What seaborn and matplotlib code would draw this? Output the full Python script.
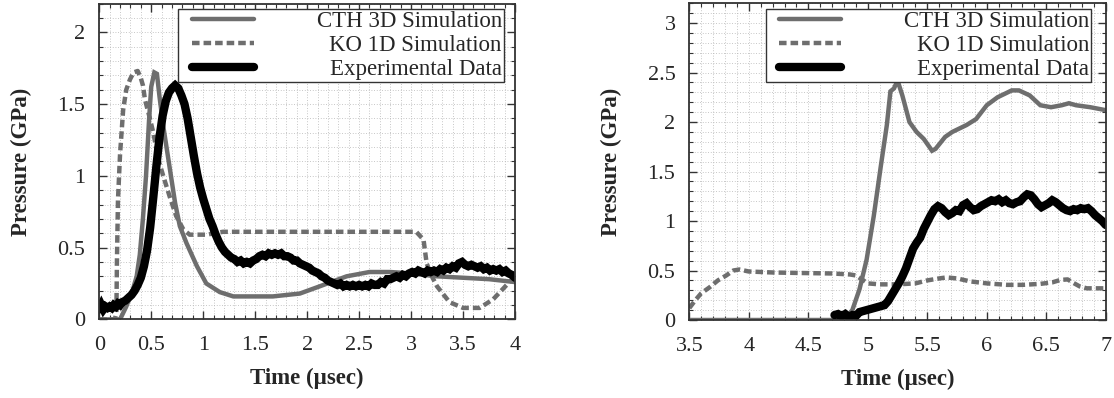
import matplotlib
matplotlib.use("Agg")
import matplotlib.pyplot as plt
from matplotlib.legend_handler import HandlerLine2D
from matplotlib.lines import Line2D
from matplotlib.ticker import MultipleLocator
import seaborn as sns

# ---------------------------------------------------------------- data
series_names = ["CTH 3D Simulation", "KO 1D Simulation", "Experimental Data"]

# Gauge 1 (0 - 4 usec)
g1_cth_t = [0.00, 0.20, 0.26, 0.32, 0.36, 0.39, 0.42, 0.45, 0.48, 0.50, 0.53,
            0.555, 0.58, 0.615, 0.68, 0.73, 0.775, 0.84, 0.94, 1.03, 1.16, 1.29,
            1.50, 1.67, 1.93, 2.12, 2.38, 2.60, 2.80, 3.00, 3.25, 3.50, 3.75, 4.00]
g1_cth_p = [0.00, 0.00, 0.09, 0.20, 0.30, 0.45, 0.70, 1.00, 1.40, 1.62, 1.72,
            1.71, 1.55, 1.35, 1.045, 0.81, 0.65, 0.53, 0.37, 0.25, 0.19, 0.16,
            0.16, 0.16, 0.18, 0.23, 0.30, 0.33, 0.33, 0.32, 0.30, 0.29, 0.28, 0.26]

g1_ko_t = [0.00, 0.15, 0.165, 0.17, 0.18, 0.20, 0.23, 0.26, 0.295, 0.33, 0.37,
           0.40, 0.42, 0.44, 0.48, 0.52, 0.57, 0.615, 0.68, 0.74, 0.81, 0.87,
           1.03, 1.19, 3.05, 3.12, 3.15, 3.20, 3.25, 3.37, 3.50, 3.66, 3.79,
           3.92, 4.00]
g1_ko_p = [0.00, 0.00, 0.05, 0.40, 0.83, 1.15, 1.46, 1.60, 1.67, 1.72, 1.73,
           1.68, 1.63, 1.53, 1.42, 1.30, 1.11, 1.00, 0.85, 0.72, 0.625, 0.59,
           0.59, 0.61, 0.61, 0.555, 0.39, 0.30, 0.23, 0.12, 0.08, 0.08, 0.14,
           0.24, 0.30]

g1_exp_t = [0.00, 0.02, 0.04, 0.06, 0.08, 0.10, 0.12, 0.14, 0.16, 0.18, 0.20,
            0.22, 0.25, 0.28, 0.31, 0.34, 0.37, 0.40, 0.43, 0.46, 0.49, 0.52,
            0.55, 0.58, 0.61, 0.64, 0.67, 0.70, 0.73, 0.76, 0.79, 0.82, 0.85,
            0.88, 0.91, 0.94, 0.97, 1.00, 1.03, 1.06, 1.09, 1.12, 1.15, 1.18,
            1.21, 1.24, 1.27, 1.30, 1.33, 1.36, 1.39, 1.42, 1.45, 1.48, 1.51,
            1.54, 1.57, 1.60, 1.63, 1.66, 1.69, 1.72, 1.75, 1.78, 1.81, 1.84,
            1.87, 1.90, 1.93, 1.96, 1.99, 2.02, 2.05, 2.08, 2.11, 2.14, 2.17,
            2.20, 2.23, 2.26, 2.29, 2.32, 2.35, 2.38, 2.41, 2.44, 2.47, 2.50,
            2.53, 2.56, 2.59, 2.62, 2.65, 2.68, 2.71, 2.74, 2.77, 2.80, 2.83,
            2.86, 2.89, 2.92, 2.95, 2.98, 3.01, 3.04, 3.07, 3.10, 3.13, 3.16,
            3.19, 3.22, 3.25, 3.28, 3.31, 3.34, 3.37, 3.40, 3.43, 3.46, 3.49,
            3.52, 3.55, 3.58, 3.61, 3.64, 3.67, 3.70, 3.73, 3.76, 3.79, 3.82,
            3.85, 3.88, 3.91, 3.94, 3.97, 4.00]
g1_exp_p = [0.07, 0.10, 0.07, 0.09, 0.08, 0.09, 0.08, 0.10, 0.09, 0.11, 0.10,
            0.12, 0.13, 0.15, 0.17, 0.20, 0.24, 0.29, 0.37, 0.48, 0.64, 0.85,
            1.07, 1.27, 1.42, 1.52, 1.58, 1.61, 1.63, 1.61, 1.56, 1.50, 1.40,
            1.27, 1.14, 1.02, 0.92, 0.84, 0.77, 0.70, 0.65, 0.59, 0.54, 0.50,
            0.47, 0.45, 0.43, 0.42, 0.40, 0.41, 0.39, 0.40, 0.39, 0.41, 0.42,
            0.44, 0.45, 0.44, 0.46, 0.45, 0.46, 0.45, 0.46, 0.44, 0.44, 0.43,
            0.41, 0.41, 0.39, 0.38, 0.37, 0.36, 0.34, 0.33, 0.32, 0.30, 0.29,
            0.27, 0.26, 0.25, 0.24, 0.25, 0.23, 0.24, 0.23, 0.24, 0.23, 0.24,
            0.23, 0.24, 0.23, 0.25, 0.24, 0.24, 0.26, 0.25, 0.28, 0.28, 0.29,
            0.30, 0.29, 0.31, 0.30, 0.32, 0.33, 0.32, 0.34, 0.33, 0.32, 0.34,
            0.33, 0.34, 0.33, 0.35, 0.34, 0.36, 0.35, 0.37, 0.36, 0.39, 0.40,
            0.38, 0.37, 0.38, 0.37, 0.36, 0.37, 0.35, 0.36, 0.34, 0.35, 0.34,
            0.35, 0.33, 0.34, 0.32, 0.31, 0.29]

# Gauge 2 (3.5 - 7 usec)
g2_cth_t = [3.50, 4.75, 4.82, 4.87, 4.93, 4.99, 5.05, 5.11, 5.16, 5.19, 5.22,
            5.25, 5.29, 5.35, 5.41, 5.47, 5.54, 5.57, 5.65, 5.71, 5.83, 5.91,
            6.00, 6.09, 6.21, 6.27, 6.36, 6.45, 6.54, 6.63, 6.69, 6.75, 6.87, 7.00]
g2_cth_p = [0.00, 0.00, 0.03, 0.10, 0.31, 0.61, 1.05, 1.56, 1.97, 2.31, 2.34,
            2.42, 2.27, 2.00, 1.90, 1.83, 1.71, 1.73, 1.85, 1.90, 1.97, 2.03,
            2.17, 2.25, 2.32, 2.32, 2.27, 2.17, 2.15, 2.17, 2.19, 2.17, 2.15, 2.12]

g2_ko_t = [3.50, 3.55, 3.60, 3.67, 3.74, 3.81, 3.87, 3.92, 4.00, 4.20, 4.43,
           4.70, 4.85, 4.90, 4.95, 5.00, 5.10, 5.25, 5.40, 5.50, 5.60, 5.66,
           5.75, 5.86, 6.00, 6.17, 6.30, 6.45, 6.55, 6.62, 6.68, 6.72, 6.78,
           6.84, 6.92, 7.00]
g2_ko_p = [0.12, 0.20, 0.27, 0.33, 0.40, 0.45, 0.50, 0.51, 0.49, 0.48, 0.475,
           0.47, 0.46, 0.45, 0.41, 0.37, 0.36, 0.36, 0.37, 0.40, 0.42, 0.43,
           0.42, 0.39, 0.37, 0.355, 0.355, 0.365, 0.38, 0.405, 0.41, 0.38, 0.34,
           0.32, 0.32, 0.32]

g2_exp_t = [4.72, 4.75, 4.78, 4.81, 4.84, 4.87, 4.90, 4.93, 4.96, 4.99, 5.02,
            5.05, 5.08, 5.11, 5.14, 5.17, 5.20, 5.23, 5.26, 5.29, 5.32, 5.35,
            5.38, 5.41, 5.44, 5.47, 5.50, 5.53, 5.56, 5.59, 5.62, 5.65, 5.68,
            5.71, 5.74, 5.77, 5.80, 5.83, 5.86, 5.89, 5.92, 5.95, 5.98, 6.01,
            6.04, 6.07, 6.10, 6.13, 6.16, 6.19, 6.22, 6.25, 6.28, 6.31, 6.34,
            6.37, 6.40, 6.43, 6.46, 6.49, 6.52, 6.55, 6.58, 6.61, 6.64, 6.67,
            6.70, 6.73, 6.76, 6.79, 6.82, 6.85, 6.88, 6.91, 6.94, 6.97, 7.00]
g2_exp_p = [0.05, 0.06, 0.04, 0.06, 0.03, 0.05, 0.04, 0.08, 0.09, 0.10, 0.11,
            0.12, 0.13, 0.14, 0.15, 0.19, 0.25, 0.31, 0.37, 0.44, 0.52, 0.62,
            0.72, 0.78, 0.83, 0.92, 0.99, 1.06, 1.12, 1.15, 1.13, 1.09, 1.06,
            1.08, 1.11, 1.10, 1.16, 1.18, 1.14, 1.11, 1.12, 1.15, 1.17, 1.19,
            1.21, 1.20, 1.22, 1.19, 1.21, 1.18, 1.17, 1.19, 1.20, 1.24, 1.27,
            1.26, 1.22, 1.17, 1.14, 1.16, 1.18, 1.21, 1.19, 1.16, 1.13, 1.11,
            1.10, 1.12, 1.11, 1.13, 1.12, 1.13, 1.10, 1.06, 1.03, 1.00, 0.96]

# axis ticks
g1_xticks = [0, 0.5, 1, 1.5, 2, 2.5, 3, 3.5, 4]
g1_xlabels = ["0", "0.5", "1", "1.5", "2", "2.5", "3", "3.5", "4"]
g1_yticks = [0, 0.5, 1, 1.5, 2]
g1_ylabels = ["0", "0.5", "1", "1.5", "2"]
g2_xticks = [3.5, 4, 4.5, 5, 5.5, 6, 6.5, 7]
g2_xlabels = ["3.5", "4", "4.5", "5", "5.5", "6", "6.5", "7"]
g2_yticks = [0, 0.5, 1, 1.5, 2, 2.5, 3]
g2_ylabels = ["0", "0.5", "1", "1.5", "2", "2.5", "3"]

# ---------------------------------------------------------------- style
sns.set_style("ticks")
plt.rcParams["font.family"] = ["Liberation Serif", "DejaVu Serif"]
plt.rcParams["axes.unicode_minus"] = False

GRAY = "#6e6e6e"
FRAME = "#333333"
styles = [
    dict(color=GRAY, linewidth=3.2, linestyle="-"),
    dict(color=GRAY, linewidth=3.2, linestyle=(0, (1.7, 0.9))),
    dict(color="black", linewidth=6.0, linestyle="-"),
]

fig = plt.figure(figsize=(11.14, 3.98), dpi=100)
ax1 = fig.add_axes([0.0891, 0.1975, 0.3732, 0.7937])
ax2 = fig.add_axes([0.6188, 0.1960, 0.3738, 0.7957])

panels = [
    (ax1, [(g1_cth_t, g1_cth_p), (g1_ko_t, g1_ko_p), (g1_exp_t, g1_exp_p)],
     (0, 4), (0, 2.2), g1_xticks, g1_xlabels, g1_yticks, g1_ylabels,
     (0.9726, 0.9813)),
    (ax2, [(g2_cth_t, g2_cth_p), (g2_ko_t, g2_ko_p), (g2_exp_t, g2_exp_p)],
     (3.5, 7), (0, 3.2), g2_xticks, g2_xlabels, g2_yticks, g2_ylabels,
     (0.9647, 0.9810)),
]

legends = []
for ax, series, xlim, ylim, xt, xl, yt, yl, anchor in panels:
    for (t, p), name, st in zip(series, series_names, styles):
        sns.lineplot(x=t, y=p, ax=ax, sort=False, estimator=None,
                     label=name, solid_joinstyle="miter", **st)

    ax.set_xlim(*xlim)
    ax.set_ylim(*ylim)
    ax.set_xticks(xt, xl)
    ax.set_yticks(yt, yl)
    ax.xaxis.set_minor_locator(MultipleLocator(0.1))
    ax.yaxis.set_minor_locator(MultipleLocator(0.1))

    ax.set_axisbelow(True)
    ax.grid(True, which="both", color="#b4b4b4",
            linestyle=(0, (1, 2.2)), linewidth=0.6)

    for sp in ax.spines.values():
        sp.set_visible(True)
        sp.set_color(FRAME)
        sp.set_linewidth(1.3)
    ax.tick_params(which="both", direction="in", top=True, right=True,
                   color=FRAME)
    ax.tick_params(which="major", length=5.5, width=1.0, labelsize=16)
    ax.tick_params(which="minor", length=3.0, width=0.8)
    ax.tick_params(axis="x", which="major", pad=12)
    ax.tick_params(axis="y", which="major", pad=10)

    ax.set_xlabel("Time (µsec)", fontsize=16.5, fontweight="bold")
    ax.set_ylabel("Pressure (GPa)", fontsize=16.5, fontweight="bold")
    ax.xaxis.set_label_coords(0.5, -0.154)
    ax.yaxis.set_label_coords(-0.162, 0.5)

    handles = [Line2D([], [], **st) for st in styles]
    leg = ax.legend(handles, series_names, loc="upper right",
                    bbox_to_anchor=anchor, borderaxespad=0, fontsize=16.5,
                    borderpad=0.08, labelspacing=0.12, handlelength=3.23,
                    handletextpad=2.73, fancybox=False, framealpha=1,
                    edgecolor=FRAME,
                    handler_map={Line2D: HandlerLine2D(xpad=0.51)})
    leg.get_frame().set_linewidth(1.0)
    legends.append(leg)

# right-align the legend labels against the widest one
fig.canvas.draw()
renderer = fig.canvas.get_renderer()
for leg in legends:
    texts = leg.get_texts()
    widths = [t.get_window_extent(renderer).width for t in texts]
    wmax = max(widths)
    for t, w in zip(texts, widths):
        t.set_position((wmax - w, 0))

fig.savefig("out.png", dpi=100)
